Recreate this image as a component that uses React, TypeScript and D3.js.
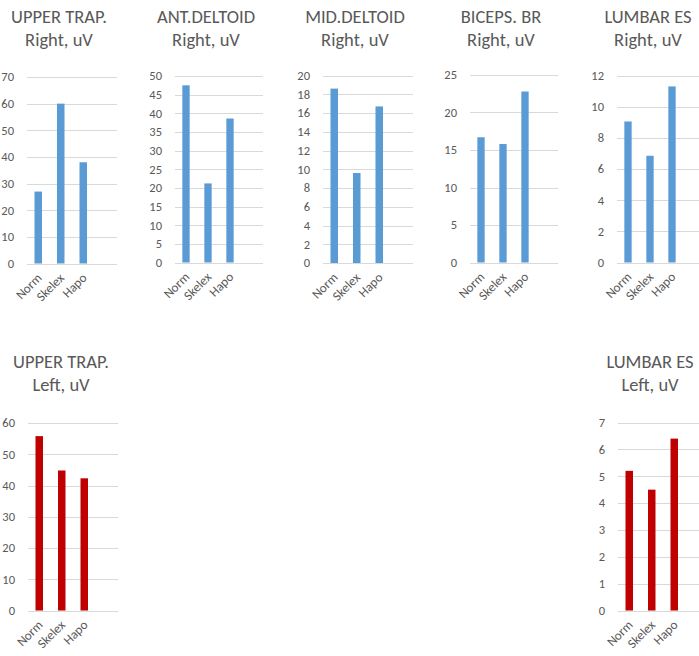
import React from 'react';
import * as d3 from 'd3';

const categories = ['Norm', 'Skelex', 'Hapo'];
const upperTrapRight = [27, 60, 38];
const antDeltoidRight = [47.5, 21.2, 38.6];
const midDeltoidRight = [18.6, 9.6, 16.7];
const bicepsRight = [16.7, 15.8, 22.8];
const lumbarRight = [9.05, 6.85, 11.3];
const upperTrapLeft = [55.8, 44.8, 42.3];
const lumbarLeft = [5.2, 4.5, 6.4];

const titles1 = ['UPPER TRAP.', 'ANT.DELTOID', 'MID.DELTOID', 'BICEPS. BR', 'LUMBAR ES', 'UPPER TRAP.', 'LUMBAR ES'];
const titles2 = ['Right, uV', 'Right, uV', 'Right, uV', 'Right, uV', 'Right, uV', 'Left, uV', 'Left, uV'];
const axisMax = [70, 50, 20, 25, 12, 60, 7];
const axisStep = [10, 5, 2, 5, 2, 10, 1];
const seriesList = [upperTrapRight, antDeltoidRight, midDeltoidRight, bicepsRight, lumbarRight, upperTrapLeft, lumbarLeft];

const BLUE = '#5B9BD5';
const RED = '#C00000';
const TEXT = '#595959';
const GRID = '#D9D9D9';
const FONT = 'Carlito, Calibri, Lato, sans-serif';

// layout: plot left, plot right, top y (max), bottom y (zero), title center x, title baseline y
const layout = [
  { x0: 27, x1: 117, yt: 77, yb: 263.5, tx: 59, ty: 23, color: BLUE },
  { x0: 175, x1: 263, yt: 76, yb: 262.5, tx: 206, ty: 23, color: BLUE },
  { x0: 323, x1: 413, yt: 75.5, yb: 263, tx: 355, ty: 23, color: BLUE },
  { x0: 470, x1: 558, yt: 75, yb: 262.5, tx: 501, ty: 23, color: BLUE },
  { x0: 617, x1: 705, yt: 75.5, yb: 262.5, tx: 648, ty: 23, color: BLUE },
  { x0: 28, x1: 118, yt: 423, yb: 610.5, tx: 61, ty: 368, color: RED },
  { x0: 618, x1: 708, yt: 422.5, yb: 610.5, tx: 650, ty: 368, color: RED },
];

function Panel({ i }: { i: number }) {
  const L = layout[i];
  const data = seriesList[i];
  const x = d3.scaleBand<string>().domain([...categories, '']).range([L.x0, L.x1]).padding(0);
  const y = d3.scaleLinear().domain([0, axisMax[i]]).range([L.yb, L.yt]);
  const ticks = d3.range(0, axisMax[i] + axisStep[i] / 2, axisStep[i]);
  const bw = x.step() / 3;
  return (
    <g>
      <text x={L.tx} y={L.ty} textAnchor="middle" fontSize={18.5} fill={TEXT} fontFamily={FONT}>{titles1[i]}</text>
      <text x={L.tx} y={L.ty + 22.5} textAnchor="middle" fontSize={18.5} fill={TEXT} fontFamily={FONT}>{titles2[i]}</text>
      {ticks.map((t) => (
        <g key={t}>
          <line x1={L.x0} x2={L.x1} y1={Math.round(y(t)) + 0.5} y2={Math.round(y(t)) + 0.5} stroke={GRID} strokeWidth={1} />
          <text x={L.x0 - 13} y={y(t)} dy="0.35em" textAnchor="end" fontSize={12.5} fill={TEXT} fontFamily={FONT}>{t}</text>
        </g>
      ))}
      {categories.map((c, j) => {
        const cx = (x(c) as number) + x.step() / 2;
        return (
          <g key={c}>
            <rect x={cx - bw / 2} y={y(data[j])} width={bw} height={L.yb - y(data[j])} fill={L.color} />
            <text transform={`translate(${cx + 1},${L.yb + 12}) rotate(-45)`} textAnchor="end" dy="0.35em" fontSize={13} fill={TEXT} fontFamily={FONT}>{c}</text>
          </g>
        );
      })}
    </g>
  );
}

export default function App() {
  return (
    <svg width={699} height={656} style={{ position: 'absolute', left: 0, top: 0, background: '#fff' }}>
      <rect width={699} height={656} fill="#fff" />
      {layout.map((_, i) => <Panel key={i} i={i} />)}
    </svg>
  );
}
